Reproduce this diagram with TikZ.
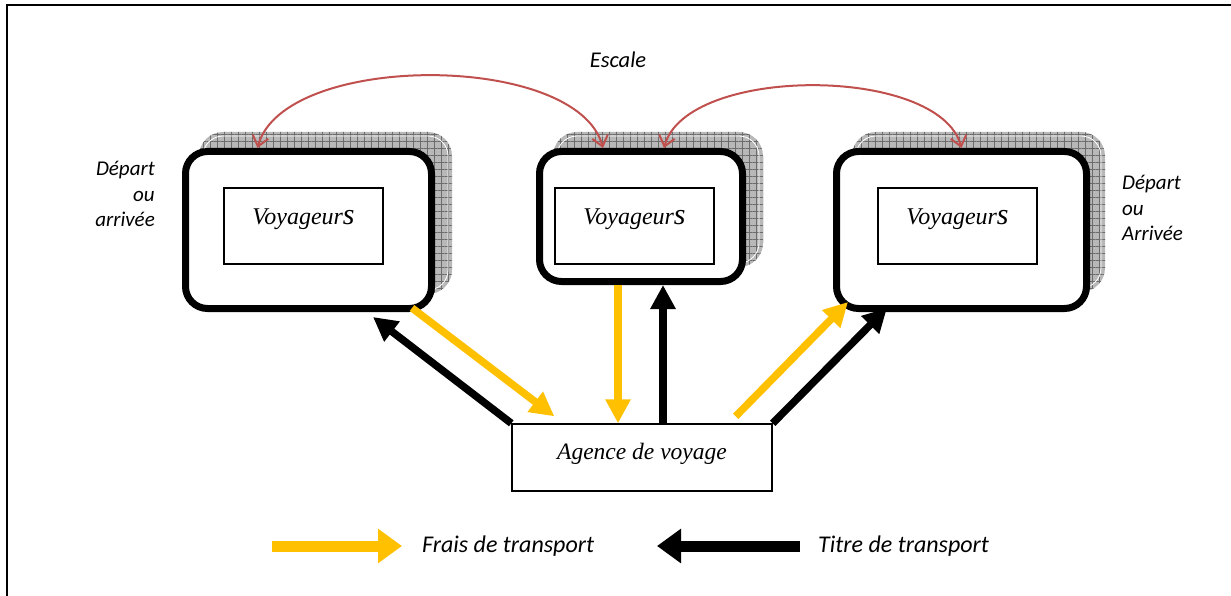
\documentclass[tikz,border=0pt]{standalone}
\usepackage{fontspec}
\setmainfont{Liberation Serif}
\newfontfamily\serlab{Liberation Serif}
\newfontfamily\sanslab{Carlito}
\usetikzlibrary{arrows.meta,patterns.meta}
\definecolor{jaune}{HTML}{FFC000}
\definecolor{rouge}{HTML}{C0504D}
\definecolor{ombre}{RGB}{184,184,184}
\tikzset{bx/.style = {draw, line width=7pt, rounded corners=22pt, fill=white, inner sep=0pt},
           vy/.style = {draw, line width=1.4pt, minimum width=159pt, minimum height=76pt, inner sep=0pt,
                        font=\fontsize{24}{28}\selectfont\serlab\itshape, text height=16pt, text depth=18pt},
           ag/.style = {draw, line width=1.4pt, minimum width=260pt, minimum height=67pt, inner sep=0pt,
                        font=\fontsize{23.5}{28}\selectfont\serlab\itshape, text height=16pt, text depth=13pt},
           lb/.style = {inner sep=0pt, font=\fontsize{21}{25.5}\selectfont\sanslab\itshape},
           sh/.style = {fill=ombre, rounded corners=24pt,
                        postaction={pattern={Hatch[angle=0,distance=7pt,line width=0.7pt]}, pattern color=gray!85!black}},
           fy/.style = {jaune, line width=7.5pt, -{Triangle[length=24pt,width=24pt]}},
           fn/.style = {black, line width=7.5pt, -{Triangle[length=24pt,width=24pt]}},
           ly/.style = {jaune, line width=11pt, -{Triangle[length=24pt,width=33pt]}},
           ln/.style = {black, line width=11pt, -{Triangle[length=24pt,width=33pt]}},
           es/.style = {rouge, line width=2pt, {Straight Barb[length=10pt,width=16pt]}-{Straight Barb[length=10pt,width=16pt]}}}
\newcommand{\voy}{Voyageur{\fontsize{30}{28}\selectfont s}}

\begin{document}
\begin{tikzpicture}[x=1pt, y=-1pt]
    \useasboundingbox (0,0) rectangle (1231,596);
    \draw[line width=2pt] (7,600) -- (7,5) -- (1240,5);
    % ombres
    \fill[sh] (199,132) rectangle (452,294);
    \fill[sh] (553,132) rectangle (763,267);
    \fill[sh] (852,132) rectangle (1105,292);
    \draw[white, line width=0.8pt, rounded corners=20pt] (203,136) rectangle (448,290);
    \draw[white, line width=0.8pt, rounded corners=20pt] (557,136) rectangle (759,263);
    \draw[white, line width=0.8pt, rounded corners=20pt] (856,136) rectangle (1101,288);
    % cadres
    \node[bx, minimum width=246pt, minimum height=157pt] (vl) at (308.5,230) {};
    \node[bx, minimum width=203pt, minimum height=130pt] (vm) at (641,216.5) {};
    \node[bx, minimum width=250pt, minimum height=157pt] (vr) at (961.5,230) {};
    \node[vy] (il) at (303.5,226) {\voy};
    \node[vy] (im) at (634.5,226) {\voy};
    \node[vy] (ir) at (957.5,226) {\voy};
    \node[ag] (a) at (642,457.5) {Agence de voyage};
    % textes
    \node[lb, font=\fontsize{22.5}{27}\selectfont\sanslab\itshape] (e) at (618,60) {Escale};
    \node[lb, align=right, anchor=east] (dl) at (155,194) {Départ\\ou\\arrivée};
    \node[lb, align=left, anchor=west] (dr) at (1122,208) {Départ\\ou\\Arrivée};
    % escales
    \draw[es] ([xshift=-51pt]vl.north) to[out=75, in=105, looseness=0.74] ([xshift=-38pt]vm.north);
    \draw[es] ([xshift=23pt]vm.north) to[out=75, in=105, looseness=0.74] (vr.north);
    % frais et titres
    \draw[fy] ([xshift=-23pt, yshift=4pt]vl.south east) to ([xshift=43pt, yshift=7pt]a.north west);
    \draw[fn] (a.north west) to ([xshift=-62pt, yshift=-5pt]vl.south east);
    \draw[fy] ([xshift=-23pt]vm.south) to ([xshift=-24pt]a.north);
    \draw[fn] ([xshift=21pt]a.north) to ([xshift=22pt]vm.south);
    \draw[fy] ([xshift=-37pt, yshift=7pt]a.north east) to ([xshift=15pt, yshift=10pt]vr.south west);
    \draw[fn] (a.north east) to ([xshift=54pt, yshift=4pt]vr.south west);
    % legende
    \node[lb, anchor=west, font=\fontsize{24}{28}\selectfont\sanslab\itshape] (fr) at (422,546) {Frais de transport};
    \node[lb, anchor=west, font=\fontsize{24}{28}\selectfont\sanslab\itshape] (ti) at (818,546) {Titre de transport};
    \coordinate (lf) at (272,546);
    \coordinate (lt) at (657,546);
    \draw[ly] (lf) to ([xshift=-20pt]fr.west);
    \draw[ln] ([xshift=-18pt]ti.west) to (lt);
\end{tikzpicture}
\end{document}
